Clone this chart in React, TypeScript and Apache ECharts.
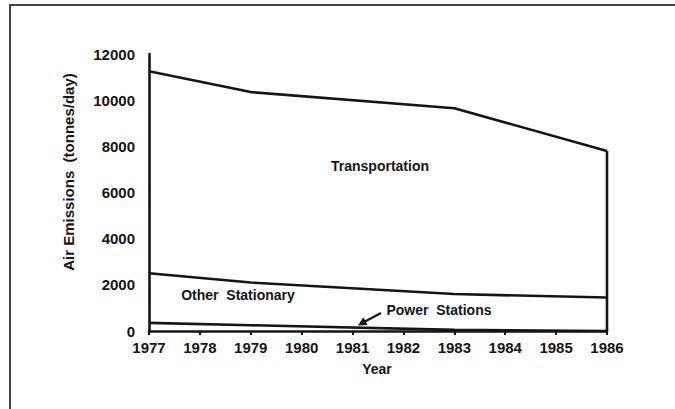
import React, { useEffect, useRef } from "react";
import * as echarts from "echarts";

const years = [1977, 1979, 1983, 1986];
const powerStations = [350, 250, 50, 0];
const otherStationary = [2150, 1850, 1550, 1450];
const transportation = [8750, 8250, 8050, 6350];
const seriesNames = ["Power Stations", "Other Stationary", "Transportation"];
const xTickYears = [1977, 1978, 1979, 1980, 1981, 1982, 1983, 1984, 1985, 1986];
const yMin = 0;
const yMax = 12000;
const yStep = 2000;

const FONT = '"Liberation Sans", Arial, Helvetica, sans-serif';
const INK = "#151515";

export default function App() {
  const ref = useRef<HTMLDivElement>(null);
  useEffect(() => {
    if (!ref.current) return;
    const chart = echarts.init(ref.current, undefined, { renderer: "svg" });
    const last = years.length - 1;
    const layers = [powerStations, otherStationary, transportation];
    const cumulative: number[][] = [];
    layers.forEach((vals, k) => {
      cumulative.push(vals.map((v, i) => v + (k > 0 ? cumulative[k - 1][i] : 0)));
    });
    const total1986 = cumulative[2][last];
    const lineStyle = { color: INK, width: 2.6 };
    const mk = (name: string, vals: number[]) => ({
      type: "line",
      name,
      data: years.map((y, i) => [y, vals[i]]),
      symbol: "none",
      lineStyle,
      silent: true,
    });
    const textStyle = (size: number) => ({
      font: `bold ${size}px ${FONT}`,
      fill: INK,
      align: "center",
      verticalAlign: "middle",
      textAlign: "center",
      textVerticalAlign: "middle",
    });
    chart.setOption({
      animation: false,
      backgroundColor: "#fff",
      grid: { left: 149, right: 68, top: 54, bottom: 78, containLabel: false },
      xAxis: {
        type: "value",
        min: xTickYears[0],
        max: xTickYears[xTickYears.length - 1],
        interval: 1,
        axisLine: { show: true, lineStyle: { color: INK, width: 2.6 } },
        axisTick: { show: true, length: 4, lineStyle: { color: INK, width: 2 } },
        axisLabel: {
          margin: 9,
          fontFamily: FONT,
          fontWeight: "bold",
          fontSize: 15,
          color: INK,
          formatter: (v: number) => String(v),
        },
        splitLine: { show: false },
      },
      yAxis: {
        type: "value",
        min: yMin,
        max: yMax,
        interval: yStep,
        axisLine: { show: true, lineStyle: { color: INK, width: 2.6 } },
        axisTick: { show: false },
        axisLabel: {
          margin: 14,
          fontFamily: FONT,
          fontWeight: "bold",
          fontSize: 15,
          color: INK,
          formatter: (v: number) => String(v),
        },
        splitLine: { show: false },
      },
      series: [
        mk(seriesNames[0], cumulative[0]),
        mk(seriesNames[1], cumulative[1]),
        mk(seriesNames[2], cumulative[2]),
        {
          type: "line",
          name: "edge",
          data: [
            [years[last], 0],
            [years[last], total1986],
          ],
          symbol: "none",
          lineStyle,
          silent: true,
        },
      ],
      graphic: [
        {
          type: "rect",
          shape: { x: 10, y: 5, width: 720, height: 460 },
          style: { fill: "none", stroke: "#444", lineWidth: 2 },
          silent: true,
        },
        {
          type: "text",
          x: 68,
          y: 172,
          rotation: Math.PI / 2,
          style: { text: "Air Emissions  (tonnes/day)", ...textStyle(15) },
        },
        { type: "text", x: 377, y: 369, style: { text: "Year", ...textStyle(14) } },
        { type: "text", x: 380, y: 166, style: { text: seriesNames[2], ...textStyle(14) } },
        { type: "text", x: 238, y: 295, style: { text: "Other  Stationary", ...textStyle(14) } },
        { type: "text", x: 439, y: 310, style: { text: "Power  Stations", ...textStyle(14) } },
        {
          type: "line",
          shape: { x1: 381, y1: 313, x2: 364, y2: 322 },
          style: { stroke: INK, lineWidth: 2.2 },
        },
        {
          type: "polygon",
          shape: { points: [[358, 325.5], [367.5, 325], [363.3, 317.3]] },
          style: { fill: INK },
        },
      ],
    });
    return () => chart.dispose();
  }, []);
  return (
    <div
      ref={ref}
      style={{ position: "absolute", left: 0, top: 0, width: 675, height: 409 }}
    />
  );
}
